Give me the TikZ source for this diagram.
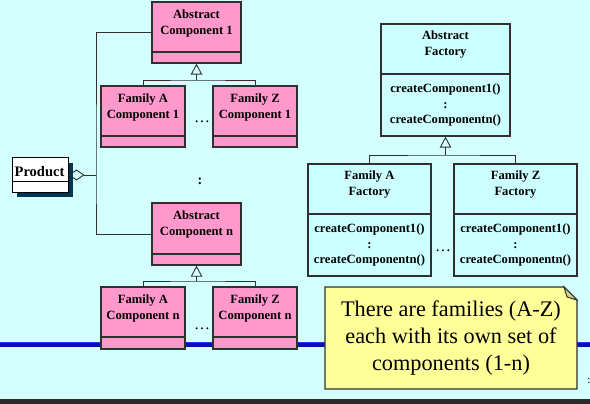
\documentclass[tikz,border=0pt]{standalone}
\usepackage{fontspec}
\setmainfont{Liberation Serif}
\usepackage{xcolor}
\usepackage{tikz}
\usetikzlibrary{arrows.meta}

\definecolor{slidebg}{HTML}{D4FFFF}
\definecolor{compfill}{HTML}{FF99CC}
\definecolor{factfill}{HTML}{CCFFFF}
\definecolor{boxline}{HTML}{303030}
\definecolor{notefill}{HTML}{FFFF99}
\definecolor{notefold}{HTML}{D4D48A}
\definecolor{barblue}{HTML}{0C0CB8}
\definecolor{barlight}{HTML}{3030F0}
\definecolor{shadowblue}{HTML}{003652}
\definecolor{darkband}{HTML}{2B2B2B}

\newcommand\boxfont{\bfseries\fontsize{12.6}{15.5}\selectfont}

\tikzset{
  classbox/.style={draw=boxline, line width=1.3pt, inner sep=0pt},
  compbox/.style={classbox, fill=compfill, minimum width=84pt, minimum height=61pt},
  compbar/.style={compbox, minimum height=11pt, anchor=south},
  factbox/.style={classbox, fill=factfill, minimum width=123pt, minimum height=112pt},
  factops/.style={factbox, minimum height=62pt, anchor=south, align=center, font=\boxfont},
  boxtitle/.style={anchor=north, align=center, inner sep=0pt, font=\boxfont},
  link/.style={draw=boxline, line width=0.9pt},
  isa/.style={link, -{Triangle[open, length=11pt, width=11.5pt]}},
  hasa/.style={link, -{Diamond[open, length=16pt, width=11pt]}},
  dots/.style={inner sep=0pt, font=\fontsize{16}{18}\selectfont}
}

\begin{document}
\begin{tikzpicture}[x=1pt, y=-1pt]
        \useasboundingbox (0,0) rectangle (590,404);
        \fill[slidebg] (0,0) rectangle (590,404);
        \fill[darkband] (0,399) rectangle (590,404);
        \draw[barblue, line width=5pt] (0,344) -- (590,344);
        \draw[barlight, line width=1.2pt] (0,342.2) -- (590,342.2);

        % component 1
        \node[compbox, minimum width=89pt] (acomp1) at (196.5,32.5) {};
        \node[compbar, minimum width=89pt] (acomp1b) at (acomp1.south) {};
        \node[boxtitle] (acomp1t) at (196.5,10) {Abstract\\Component 1};
        \node[compbox] (fa1) at (143,116.5) {};
        \node[compbar] (fa1b) at (fa1.south) {};
        \node[boxtitle] (fa1t) at (143,94) {Family A\\Component 1};
        \node[compbox] (fz1) at (255,116.5) {};
        \node[compbar] (fz1b) at (fz1.south) {};
        \node[boxtitle] (fz1t) at (255,94) {Family Z\\Component 1};
        \node[dots] (dots1) at (202,122) {…};

        \coordinate (fork1) at (196.5,80);
        \draw[link] (fa1.north) |- (fork1) -| (fz1.north);
        \draw[isa] (fork1) -- (acomp1.south);

        \node[inner sep=0pt, font=\bfseries\fontsize{14}{16}\selectfont] (vdots) at (200,181.5) {:};

        % component n
        \node[compbox, minimum width=89pt, minimum height=62pt] (acompn) at (196.5,234) {};
        \node[compbar, minimum width=89pt] (acompnb) at (acompn.south) {};
        \node[boxtitle] (acompnt) at (196.5,211) {Abstract\\Component n};
        \node[compbox, minimum height=62pt] (fan) at (143,318) {};
        \node[compbar, minimum height=12pt] (fanb) at (fan.south) {};
        \node[boxtitle] (fant) at (143,295) {Family A\\Component n};
        \node[compbox, minimum height=62pt] (fzn) at (255,318) {};
        \node[compbar, minimum height=12pt] (fznb) at (fzn.south) {};
        \node[boxtitle] (fznt) at (255,295) {Family Z\\Component n};
        \node[dots] (dotsn) at (202,329) {…};

        \coordinate (forkn) at (196.5,281);
        \draw[link] (fan.north) |- (forkn) -| (fzn.north);
        \draw[isa] (forkn) -- (acompn.south);

        % product
        \fill[shadowblue] (17,163) rectangle (73,197);
        \node[classbox, draw=black, line width=1pt, fill=white, minimum width=56pt, minimum height=34pt] (prod) at (40,175) {};
        \node[classbox, draw=black, line width=1pt, fill=white, minimum width=56pt, minimum height=11pt, anchor=south] (prodb) at (prod.south) {};
        \node[anchor=base, inner sep=0pt, font=\bfseries\fontsize{14.5}{17}\selectfont] (prodt) at (39.5,176.7) {Product};

        \coordinate (hub) at (96,175);
        \draw[link] (acomp1.west) -| (hub) |- (acompn.west);
        \draw[hasa] (hub) -- (prod.east);

        % factories
        \node[factbox, minimum width=129pt] (afac) at (445.5,80) {};
        \node[factops, minimum width=129pt] (afacops) at (afac.south) {createComponent1()\\:\\createComponentn()};
        \node[boxtitle] (afact) at (445.5,31) {Abstract\\Factory};
        \node[factbox] (faf) at (369.5,220) {};
        \node[factops] (fafops) at (faf.south) {createComponent1()\\:\\createComponentn()};
        \node[boxtitle] (faft) at (369.5,171) {Family A\\Factory};
        \node[factbox] (fzf) at (515.5,220) {};
        \node[factops] (fzfops) at (fzf.south) {createComponent1()\\:\\createComponentn()};
        \node[boxtitle] (fzft) at (515.5,171) {Family Z\\Factory};
        \node[dots] (dotsf) at (443,251) {…};

        \coordinate (forkf) at (445.5,155);
        \draw[link] (faf.north) |- (forkf) -| (fzf.north);
        \draw[isa] (forkf) -- (afac.south);

        % note
        \filldraw[fill=notefill, draw=boxline, line width=1.3pt]
            (325,287) -- (564,287) -- (577,300) -- (577,389) -- (325,389) -- cycle;
        \filldraw[fill=notefold, draw=boxline, line width=1pt]
            (564,287) -- (567,297) -- (577,300) -- cycle;
        \node[align=center, inner sep=0pt, font=\fontsize{22.3}{27}\selectfont] (note) at (451,338.5)
            {There are families (A-Z)\\each with its own set of\\components (1-n)};

        \node[inner sep=0pt, font=\fontsize{11}{13}\selectfont] (pagenum) at (589,380.5) {:};
\end{tikzpicture}
\end{document}
